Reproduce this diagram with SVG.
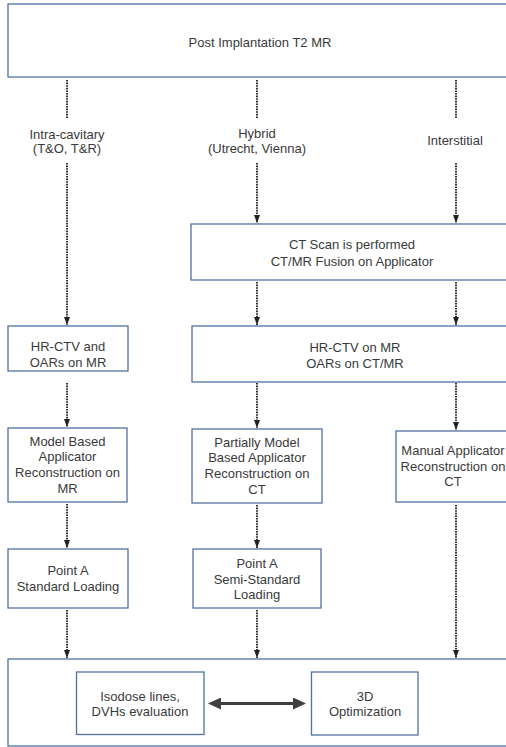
<svg xmlns="http://www.w3.org/2000/svg" width="506" height="747" viewBox="0 0 506 747">
<style>
.box{fill:#ffffff;stroke:#5271a3;stroke-width:1.3}
text{font-family:"Liberation Sans",Arial,sans-serif;font-size:13px;fill:#3a3a3a;text-anchor:middle}
.dot{stroke:#333333;stroke-width:2;stroke-dasharray:1.6 1;fill:none}
.arr{marker-end:url(#ah)}
</style>
<defs>
<marker id="ah" viewBox="0 0 8 6" refX="8" refY="3" markerWidth="8" markerHeight="6" markerUnits="userSpaceOnUse" orient="auto">
<path d="M0,0 L8,3 L0,6 z" fill="#222222"/>
</marker>
<marker id="bh" viewBox="0 0 13 12" refX="1" refY="6" markerWidth="13" markerHeight="12" markerUnits="userSpaceOnUse" orient="auto-start-reverse">
<path d="M0,0 L13,6 L0,12 z" fill="#404040"/>
</marker>
</defs>
<rect width="506" height="747" fill="#ffffff"/>

<g id="top">
<rect class="box" x="8" y="4" width="510" height="73"/>
<text x="260" y="46.5">Post Implantation T2 MR</text>
</g>

<g id="label-intracavitary">
<text x="67" y="138.5">Intra-cavitary</text>
<text x="67" y="152.5">(T&amp;O, T&amp;R)</text>
</g>
<g id="label-hybrid">
<text x="257" y="137.5">Hybrid</text>
<text x="257" y="152.5">(Utrecht, Vienna)</text>
</g>
<g id="label-interstitial">
<text x="455" y="144.5">Interstitial</text>
</g>

<g id="ctscan">
<rect class="box" x="191" y="224" width="325" height="56"/>
<text x="352" y="248.5">CT Scan is performed</text>
<text x="352" y="265.5">CT/MR Fusion on Applicator</text>
</g>

<g id="hrctv-left">
<rect class="box" x="8" y="326" width="120" height="45"/>
<text x="68" y="351">HR-CTV and</text>
<text x="68" y="366.5">OARs on MR</text>
</g>

<g id="hrctv-right">
<rect class="box" x="192" y="326" width="325" height="56"/>
<text x="355" y="352">HR-CTV on MR</text>
<text x="355" y="368">OARs on CT/MR</text>
</g>

<g id="model-based">
<rect class="box" x="8" y="428" width="119" height="74"/>
<text x="67.5" y="445.5">Model Based</text>
<text x="67.5" y="461.3">Applicator</text>
<text x="67.5" y="477.1">Reconstruction on</text>
<text x="67.5" y="492.9">MR</text>
</g>

<g id="partially-model">
<rect class="box" x="192" y="429" width="130" height="74"/>
<text x="257" y="446.5">Partially Model</text>
<text x="257" y="462">Based Applicator</text>
<text x="257" y="478">Reconstruction on</text>
<text x="257" y="493.5">CT</text>
</g>

<g id="manual">
<rect class="box" x="396" y="431" width="116" height="71"/>
<text x="453" y="455">Manual Applicator</text>
<text x="453" y="470.5">Reconstruction on</text>
<text x="453" y="486">CT</text>
</g>

<g id="pointa-standard">
<rect class="box" x="8" y="549" width="120" height="59"/>
<text x="68" y="575">Point A</text>
<text x="68" y="591">Standard Loading</text>
</g>

<g id="pointa-semi">
<rect class="box" x="193" y="549" width="128" height="59"/>
<text x="257" y="567.5">Point A</text>
<text x="257" y="583.5">Semi-Standard</text>
<text x="257" y="598.5">Loading</text>
</g>

<g id="bottom">
<rect class="box" x="8" y="659" width="510" height="87"/>
</g>

<g id="isodose">
<rect class="box" x="76.5" y="672" width="127.5" height="62.5"/>
<text x="140" y="700.5">Isodose lines,</text>
<text x="140" y="716">DVHs evaluation</text>
</g>

<g id="optimization">
<rect class="box" x="311.5" y="672" width="106.5" height="63"/>
<text x="365" y="701">3D</text>
<text x="365" y="716">Optimization</text>
</g>

<g id="connectors">
<line class="dot" x1="67" y1="80" x2="67" y2="119"/>
<line class="dot" x1="257" y1="80" x2="257" y2="119"/>
<line class="dot" x1="456" y1="80" x2="456" y2="119"/>
<line class="dot arr" x1="67" y1="163" x2="67" y2="325"/>
<line class="dot arr" x1="257" y1="163" x2="257" y2="223"/>
<line class="dot arr" x1="456" y1="163" x2="456" y2="223"/>
<line class="dot arr" x1="257" y1="282" x2="257" y2="325"/>
<line class="dot arr" x1="456" y1="282" x2="456" y2="325"/>
<line class="dot arr" x1="67" y1="383" x2="67" y2="427"/>
<line class="dot arr" x1="257" y1="383" x2="257" y2="428"/>
<line class="dot arr" x1="456" y1="383" x2="456" y2="430"/>
<line class="dot arr" x1="67" y1="504" x2="67" y2="548"/>
<line class="dot arr" x1="257" y1="505" x2="257" y2="548"/>
<line class="dot arr" x1="67" y1="610" x2="67" y2="658"/>
<line class="dot arr" x1="257" y1="610" x2="257" y2="658"/>
<line class="dot arr" x1="456" y1="505" x2="456" y2="658"/>
<line x1="220" y1="703.5" x2="294" y2="703.5" stroke="#404040" stroke-width="3" marker-start="url(#bh)" marker-end="url(#bh)"/>
</g>
</svg>
